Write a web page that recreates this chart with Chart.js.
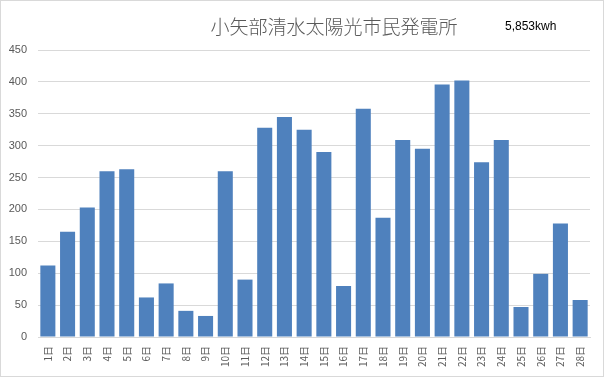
<!DOCTYPE html>
<html>
<head>
<meta charset="utf-8">
<script src="https://cdn.jsdelivr.net/npm/chart.js@4"></script>
<style>
  html, body { margin: 0; padding: 0; background: #ffffff; }
  #wrap { position: relative; width: 605px; height: 378px; }
</style>
</head>
<body>
<div id="wrap"><canvas id="c" width="605" height="378"></canvas></div>
<script>
const titleText = "小矢部清水太陽光市民発電所";
const totalText = "5,853kwh";
const categories = ["1日","2日","3日","4日","5日","6日","7日","8日","9日","10日","11日","12日","13日","14日","15日","16日","17日","18日","19日","20日","21日","22日","23日","24日","25日","26日","27日","28日"];
const generation = [112,165,203,260,263,62,84,41,33,260,90,328,345,325,290,80,358,187,309,295,396,402,274,309,47,99,178,58];
const yTicks = [0,50,100,150,200,250,300,350,400,450];

const decor = {
  id: 'decor',
  afterDraw(chart) {
    const ctx = chart.ctx;
    ctx.save();
    ctx.strokeStyle = '#d9d9d9';
    ctx.lineWidth = 1;
    ctx.strokeRect(0.5, 0.5, 603, 376);
    ctx.textBaseline = 'middle';
    ctx.fillStyle = '#595959';
    ctx.font = '300 19px "Noto Sans CJK JP"';
    ctx.textAlign = 'center';
    ctx.fillText(titleText, 334, 27);
    ctx.fillStyle = '#000000';
    ctx.font = '12px "Liberation Sans"';
    ctx.textAlign = 'left';
    ctx.fillText(totalText, 505, 27);
    ctx.restore();
  }
};

new Chart(document.getElementById('c'), {
  type: 'bar',
  data: {
    labels: categories,
    datasets: [{
      data: generation,
      backgroundColor: '#4f81bd',
      borderWidth: 0,
      barPercentage: 0.763,
      categoryPercentage: 1.0
    }]
  },
  options: {
    responsive: false,
    animation: false,
    layout: { padding: { left: 0, right: 15, top: 50, bottom: 0 } },
    plugins: { legend: { display: false }, tooltip: { enabled: false }, title: { display: false } },
    scales: {
      x: {
        grid: { display: false, drawTicks: false },
        border: { display: true, color: '#d9d9d9', width: 1 },
        ticks: {
          color: '#595959',
          font: { family: '"Noto Sans CJK JP"', size: 10 },
          minRotation: 90, maxRotation: 90,
          padding: 9,
          autoSkip: false
        },
        afterFit(scale) { scale.height = 41; }
      },
      y: {
        min: 0, max: 450,
        afterBuildTicks(scale) { scale.ticks = yTicks.map(v => ({ value: v })); },
        grid: { color: '#d9d9d9', lineWidth: 1, drawTicks: false },
        border: { display: false },
        ticks: {
          color: '#595959',
          font: { family: '"Liberation Sans"', size: 11 },
          padding: 11
        },
        afterFit(scale) { scale.width = 38; }
      }
    }
  },
  plugins: [decor]
});
</script>
</body>
</html>
